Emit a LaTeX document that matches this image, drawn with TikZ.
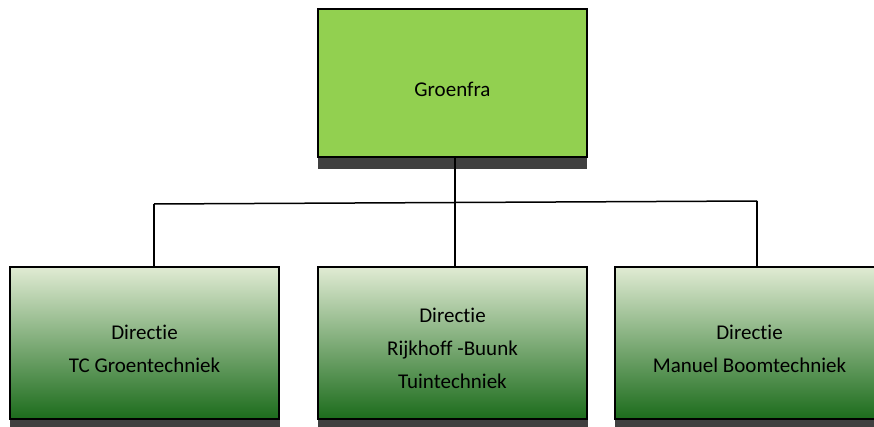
\documentclass[tikz,border=0pt]{standalone}
\usepackage{fontspec}
\setmainfont[Ligatures=CommonOff]{Carlito}
\definecolor{topgreen}{RGB}{146,208,80}
\definecolor{gtop}{RGB}{224,235,211}
\definecolor{gmid}{RGB}{150,184,112}
\definecolor{gbot}{RGB}{28,108,28}
\definecolor{shadowgray}{RGB}{64,64,64}
\newcommand{\boxlines}[2]{\smash{\raisebox{-#1}{\parbox[c]{260pt}{\centering #2}}}}
\begin{document}
\begin{tikzpicture}[x=1pt,y=1pt,
  box/.style={draw=black,line width=1.5pt,minimum width=269pt,inner sep=0pt,align=center,font=\fontsize{21}{33}\selectfont},
  headbox/.style={box,fill=topgreen,minimum height=148pt},
  unitbox/.style={box,top color=gtop,middle color=gmid,bottom color=gbot,minimum height=152pt},
  shadowbar/.style={fill=shadowgray,draw=none},
  link/.style={draw=black,line width=1.5pt}]
\clip (0,0) rectangle (874,426);
\fill[white] (0,0) rectangle (874,426);
% shadows
\fill[shadowbar] (318,269) rectangle (587,257);
\fill[shadowbar] (10,7) rectangle (280,-5);
\fill[shadowbar] (318,7) rectangle (588,-5);
\fill[shadowbar] (615,7) rectangle (885,-5);
% boxes
\node[headbox] (top) at (452.5,343) {\smash{\raisebox{-14pt}{Groenfra}}};
\node[unitbox] (left) at (144.5,83) {\boxlines{11.25pt}{Directie\\TC Groentechniek}};
\node[unitbox] (mid) at (452.5,83) {\boxlines{10.75pt}{Directie\\Rijkhoff -Buunk\\Tuintechniek}};
\node[unitbox] (right) at (749.5,83) {\boxlines{11.25pt}{Directie\\Manuel Boomtechniek}};
% connectors
\coordinate (bl) at (154,222);
\coordinate (br) at (757,225);
\draw[link] ([xshift=2.5pt]top.south) -- ([xshift=2.5pt]mid.north);
\draw[link] (bl) -- (br);
\draw[link] (bl) -- (bl |- left.north);
\draw[link] (br) -- (br |- right.north);
\end{tikzpicture}
\end{document}
